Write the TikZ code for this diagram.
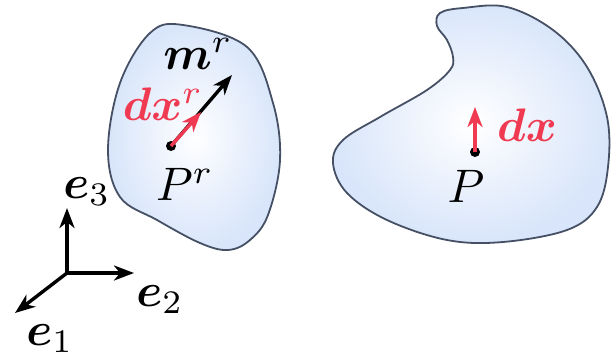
\documentclass[tikz,border=0pt]{standalone}
\usepackage{graphicx}
\usepackage{amsmath,bm}
\usetikzlibrary{arrows.meta}
\definecolor{blobline}{RGB}{70,80,100}
\definecolor{blobfill}{RGB}{216,229,250}
\definecolor{vred}{RGB}{240,58,82}
\newcommand\lbx[1]{\scalebox{4.7}{#1}}
\tikzset{
  blob/.style={draw=blobline, line width=1.8pt, inner color=white, outer color=blobfill},
  vec/.style={line width=3.4pt, -{Stealth[length=20pt,width=15pt,inset=6pt]}},
  lbl/.style={inner sep=0pt},
  pdot/.style={circle, fill=black, inner sep=0pt, minimum size=10pt}
}
\begin{document}
\begin{tikzpicture}[x=1pt,y=-1pt]
\useasboundingbox (0,0) rectangle (615,358);
% left body
\shade[blob] plot[smooth cycle, tension=0.6] coordinates {(183,25) (247,47) (273,103) (280,160) (268,215) (250,240) (228,250) (200,243) (157,220) (120,197) (108,150) (120,83) (150,33)};
% right body
\shade[blob] plot[smooth cycle, tension=0.6] coordinates {(440,13) (463,8) (507,7) (553,30) (587,67) (607,117) (608,167) (597,207) (567,230) (503,242) (447,240) (387,220) (347,193) (333,163) (343,140) (380,117) (427,90) (450,70) (453,57) (447,40) (437,26)};
% left points and vectors
\node[pdot] (Pr) at (171,146) {};
\coordinate (mr) at (232,75);
\coordinate (dxr) at (201,112);
\draw[vec, black] (Pr.center) -- (mr);
\draw[vec, vred] (Pr.center) -- (dxr);
\node[lbl] (mrl) at (198,54) {\lbx{$\bm{m}^{r}$}};
\node[lbl, text=vred] (dxrl) at (163,104) {\lbx{$\bm{d}\bm{x}^{r}$}};
\node[lbl] (Prl) at (185,184) {\lbx{$P^{r}$}};
% right point and vector
\node[pdot] (P) at (475,152) {};
\coordinate (dx) at (475,107);
\draw[vec, vred] (P.center) -- (dx);
\node[lbl, text=vred] (dxl) at (527,125) {\lbx{$\bm{d}\bm{x}$}};
\node[lbl] (Pl) at (466,186) {\lbx{$P$}};
% axes
\coordinate (O) at (67,273);
\coordinate (a3) at (67,208);
\coordinate (a2) at (134,273);
\coordinate (a1) at (15,313);
\draw[vec] (O) -- (a3);
\draw[vec] (O) -- (a2);
\draw[vec] (O) -- (a1);
\node[lbl] (e3) at (87,192) {\lbx{$\bm{e}_3$}};
\node[lbl] (e2) at (160,300) {\lbx{$\bm{e}_2$}};
\node[lbl] (e1) at (50,339) {\lbx{$\bm{e}_1$}};
\end{tikzpicture}
\end{document}
